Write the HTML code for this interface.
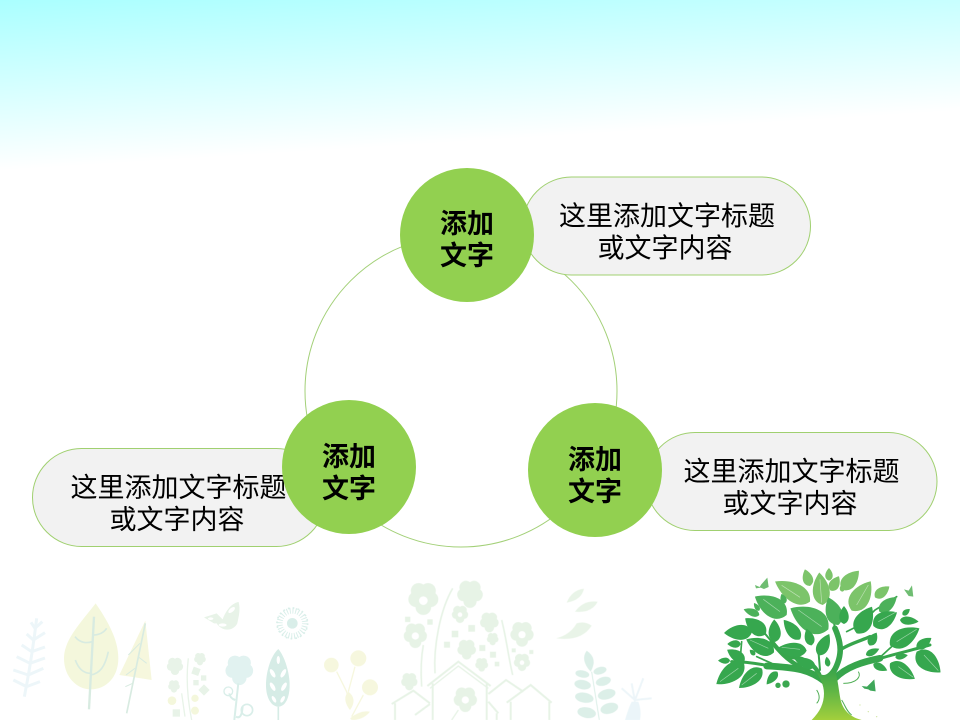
<!DOCTYPE html>
<html lang="zh">
<head>
<meta charset="utf-8">
<title>添加文字</title>
<style>
html,body{margin:0;padding:0;width:960px;height:720px;overflow:hidden;background:#fff}
svg{display:block}
text{font-family:"Liberation Sans","Noto Sans CJK SC",sans-serif;text-anchor:middle;fill:#000}
.t{font-size:27px}
.b{font-size:27px;font-weight:700}
</style>
</head>
<body>
<svg width="960" height="720" viewBox="0 0 960 720" xmlns="http://www.w3.org/2000/svg">
<defs>
<linearGradient id="sky" gradientUnits="userSpaceOnUse" x1="0" y1="0" x2="10.6" y2="170">
<stop offset="0" stop-color="#aaffff"/><stop offset=".5" stop-color="#d4ffff"/><stop offset="1" stop-color="#ffffff"/>
</linearGradient>
<linearGradient id="tg" gradientUnits="userSpaceOnUse" x1="0" y1="320" x2="0" y2="480">
<stop offset="0" stop-color="#35a24a"/><stop offset=".45" stop-color="#5fb545"/><stop offset="1" stop-color="#a3cf3c"/>
</linearGradient>
<path id="l" d="M0 0C.15-.75.65-.6 1 0C.65.6.15.75 0 0z"/>
<path id="fl" d="M0-17a9 9 0 0 1 14 10a9 9 0 0 1-5 16a9 9 0 0 1-18 0a9 9 0 0 1-5-16a9 9 0 0 1 14-10z"/>
</defs>
<rect width="960" height="720" fill="#fff"/>
<rect width="960" height="175" fill="url(#sky)"/>

<!-- faint left decoration -->
<g transform="translate(0 560) scale(.3333)" opacity=".85">
<g fill="none" stroke="#eaf5f8" stroke-width="9">
<path d="M110 175Q95 300 73 410"/>
<path d="M105 205l22-20M105 205l-12-18M100 240l35-22M100 240l-20-18M95 275l40-14M95 275l-30-20M90 310l45-16M90 310l-40-20M85 345l45-20M85 345l-45-15M80 380l40-15M80 380l-40-20"/>
</g>
<path d="M287 130C240 190 192 240 192 295C192 350 230 388 272 388C320 388 355 350 355 295C355 240 325 185 287 130z" fill="#f3f6d6"/>
<g fill="none" stroke="#d2e8dc" stroke-width="7">
<path d="M282 170L267 448"/>
<path d="M276 245C262 250 240 250 225 230M279 225C295 225 310 220 320 205M272 340C250 340 235 325 226 300M272 345C300 340 315 320 325 275" stroke-width="5"/>
</g>
<path d="M436 182L455 360L358 345z" fill="#f5f6d8"/>
<g fill="none" stroke="#d2e8dc" stroke-width="5">
<path d="M436 190L380 460"/><path d="M420 250L385 285M414 290L440 310M405 325L378 345M398 370L376 380" stroke-width="3"/>
</g>
<g fill="#e4f2e4">
<path d="M612 172L650 160L668 178C680 145 700 128 716 126C722 150 716 170 712 190C700 215 665 215 650 190L642 190z"/>
<use href="#fl" transform="translate(525 320) scale(1.4)"/>
<use href="#fl" transform="translate(600 298) scale(1)"/>
<use href="#fl" transform="translate(522 380) scale(1)"/>
<rect x="577" y="323" width="22" height="22" transform="rotate(20 588 334)"/>
<rect x="600" y="378" width="24" height="24" transform="rotate(45 612 390)"/>
<rect x="580" y="360" width="16" height="16"/><rect x="603" y="346" width="16" height="16"/>
<rect x="518" y="448" width="22" height="22"/>
</g>
<g fill="#fff"><ellipse cx="695" cy="150" rx="12" ry="6" transform="rotate(-40 695 150)"/><ellipse cx="668" cy="195" rx="12" ry="5"/><ellipse cx="632" cy="176" rx="8" ry="4"/></g>
<g fill="none" stroke="#e4f2e4" stroke-width="4"><path d="M565 295Q555 380 575 480M545 400L555 470"/></g>
<g fill="#f3f6d6"><circle cx="516" cy="422" r="13"/><circle cx="585" cy="415" r="11"/><circle cx="585" cy="452" r="12"/></g>
<circle cx="877" cy="190" r="16" fill="#d3ece6"/>
<circle cx="877" cy="190" r="38" fill="none" stroke="#d3ece6" stroke-width="18" stroke-dasharray="3 5.500"/>
<circle cx="877" cy="190" r="46" fill="none" stroke="#d3ece6" stroke-width="5" stroke-dasharray="5 9.500"/>
<use href="#fl" transform="translate(718 332) scale(2.4)" fill="#dcf0ee"/>
<g fill="none" stroke="#d3ece6" stroke-width="6">
<path d="M715 370L703 480"/><circle cx="685" cy="394" r="13" stroke-width="4"/><circle cx="741" cy="450" r="17" stroke-width="5"/>
<path d="M706 420Q690 415 688 400M708 470Q725 480 728 440"/>
</g>
<path d="M835 267C810 290 798 340 798 375C798 415 815 440 835 440C855 440 869 415 869 375C869 340 855 290 835 267z" fill="#cfe9e2"/>
<path d="M835 440V480" stroke="#cfe9e2" stroke-width="5"/>
<g fill="#fff"><ellipse cx="835" cy="300" rx="5" ry="12"/><ellipse cx="818" cy="340" rx="6" ry="14" transform="rotate(-30 818 340)"/><ellipse cx="850" cy="340" rx="6" ry="14" transform="rotate(30 850 340)"/><ellipse cx="818" cy="380" rx="6" ry="14" transform="rotate(-30 818 380)"/><ellipse cx="852" cy="380" rx="6" ry="14" transform="rotate(30 852 380)"/><ellipse cx="822" cy="418" rx="5" ry="11" transform="rotate(-30 822 418)"/><ellipse cx="848" cy="418" rx="5" ry="11" transform="rotate(30 848 418)"/></g>
</g>

<!-- faint centre decoration -->
<g transform="translate(320 560) scale(.3333)" opacity=".85">
<g fill="#f5f6d8">
<circle cx="34" cy="315" r="22"/><circle cx="115" cy="295" r="24"/><circle cx="150" cy="382" r="24"/>
<path d="M85 395C70 410 75 430 90 450C105 430 105 410 85 395zM90 475Q120 450 150 455Q130 480 95 480z"/>
</g>
<path d="M50 335L80 395L90 440M105 320L85 395M130 405L95 470" fill="none" stroke="#f5f6d8" stroke-width="4"/>
<g fill="#e3f1e2">
<use href="#fl" transform="translate(310 118) scale(2.6)"/>
<use href="#fl" transform="translate(450 104) scale(2.2)"/>
<use href="#fl" transform="translate(420 164) scale(1.4)"/>
<use href="#fl" transform="translate(286 228) scale(2)"/>
<use href="#fl" transform="translate(508 188) scale(1.6)"/>
<use href="#fl" transform="translate(606 224) scale(2)"/>
<use href="#fl" transform="translate(440 270) scale(1.6)"/>
<use href="#fl" transform="translate(518 238) scale(1)"/>
<use href="#fl" transform="translate(606 308) scale(1.4)"/>
<use href="#fl" transform="translate(485 315) scale(1.1)"/>
<use href="#fl" transform="translate(268 366) scale(1.4)"/>
<use href="#fl" transform="translate(436 420) scale(2)"/>
<rect x="255" y="170" width="16" height="16"/><rect x="322" y="178" width="16" height="16"/><rect x="395" y="212" width="20" height="20"/><rect x="445" y="195" width="20" height="20"/><rect x="372" y="245" width="18" height="18"/><rect x="478" y="255" width="18" height="18"/><rect x="510" y="275" width="18" height="18"/><rect x="524" y="305" width="14" height="14"/><rect x="575" y="265" width="12" height="12"/><rect x="628" y="270" width="12" height="12"/>
</g>
<g fill="#fff"><circle cx="310" cy="122" r="13"/><circle cx="286" cy="228" r="11"/><circle cx="606" cy="224" r="11"/><circle cx="436" cy="420" r="11"/><circle cx="420" cy="164" r="7"/><circle cx="606" cy="308" r="7"/></g>
<g fill="none" stroke="#e3f1e2" stroke-width="6">
<path d="M398 85C360 150 340 260 345 340M545 180C560 240 565 290 578 345M310 255Q300 310 305 380" stroke-width="5"/>
<path d="M322 378L415 305L512 378M338 370V480M500 370V480"/>
<path d="M330 385L415 318L505 385" stroke-width="4"/>
<path d="M215 432L280 392L330 430M225 430V480"/>
<path d="M505 402L558 360L610 395"/>
<path d="M560 428L632 375L695 428M572 425V480M688 425V480"/>
<path d="M285 465L330 432M505 425L535 460M530 460V480"/>
<path d="M415 450L395 480" stroke-width="4"/>
</g>
<g fill="#e6f3e4">
<path d="M740 128Q755 90 792 86Q785 120 740 128z"/>
<path d="M765 155Q790 120 833 125Q815 160 765 155z"/>
<path d="M708 235Q750 225 770 190Q795 182 815 197Q785 245 708 235z"/>
</g>
<g fill="#d6ece4">
<path d="M812 335Q780 300 800 272Q835 295 812 335z"/>
<ellipse cx="840" cy="332" rx="20" ry="11" transform="rotate(-15 840 332)"/>
<ellipse cx="787" cy="342" rx="21" ry="11" transform="rotate(10 787 342)"/>
<ellipse cx="850" cy="364" rx="23" ry="13" transform="rotate(-15 850 364)"/>
<ellipse cx="788" cy="374" rx="25" ry="14" transform="rotate(10 788 374)"/>
<ellipse cx="860" cy="403" rx="27" ry="15" transform="rotate(-15 860 403)"/>
<ellipse cx="793" cy="413" rx="28" ry="15" transform="rotate(10 793 413)"/>
<ellipse cx="868" cy="445" rx="27" ry="16" transform="rotate(-15 868 445)"/>
<ellipse cx="800" cy="458" rx="28" ry="16" transform="rotate(10 800 458)"/>
</g>
<path d="M815 335L838 480" stroke="#d6ece4" stroke-width="3" fill="none"/>
<path d="M915 480Q925 445 935 425L955 425Q965 450 960 480z" fill="#e8f4f8"/>
<path d="M945 425L935 370M945 420L970 355M945 420L905 385M945 420L995 415" fill="none" stroke="#eaf4f8" stroke-width="6"/>
</g>

<!-- tree -->
<g transform="translate(700 560) scale(.3333)">
<g fill="none" stroke="#37a54c" stroke-linecap="round">
<path d="M375 365C330 330 290 322 200 318" stroke-width="20"/>
<path d="M210 318C170 310 130 305 95 305" stroke-width="9"/>
<path d="M405 355C440 320 490 305 540 295" stroke-width="20"/>
<path d="M535 297C590 280 640 270 690 255" stroke-width="9"/>
<path d="M395 345C430 290 425 250 405 205" stroke-width="17"/>
<path d="M405 210L395 130" stroke-width="6"/>
<path d="M360 350C345 305 300 290 260 290" stroke-width="13"/>
<path d="M300 320C260 300 235 270 215 245" stroke-width="13"/>
<path d="M215 245L190 215" stroke-width="6"/>
<path d="M420 270C450 250 490 240 510 230" stroke-width="10"/>
<path d="M440 215L480 195L525 150L590 110" stroke-width="5"/>
<path d="M360 330L355 270" stroke-width="6"/>
<path d="M215 310L170 290M540 292L575 260M125 245L120 305" stroke-width="5"/>
</g>
<path d="M340 325C365 350 378 355 400 320C412 345 415 380 420 410C425 445 445 470 485 480H335C360 455 372 430 372 400C372 375 360 350 340 325z" fill="url(#tg)"/>
<!-- upper light leaves -->
<g fill="#7cc46a">
<use href="#l" transform="translate(330 125) rotate(210) scale(121 56)"/>
<use href="#l" transform="translate(330 78) rotate(-107) scale(52 30)"/>
<use href="#l" transform="translate(368 135) rotate(-96) scale(98 50)"/>
<use href="#l" transform="translate(387 62) rotate(-90) scale(38 22)"/>
<use href="#l" transform="translate(392 92) rotate(-60) scale(50 30)"/>
<use href="#l" transform="translate(425 88) rotate(-47) scale(76 42)"/>
<use href="#l" transform="translate(455 152) rotate(-57) scale(105 58)"/>
<use href="#l" transform="translate(525 112) rotate(-37) scale(54 30)"/>
<use href="#l" transform="translate(428 95) rotate(-100) scale(22 14)"/>
</g>
<!-- mid leaves -->
<g fill="#4cb15a">
<use href="#l" transform="translate(260 165) rotate(210) scale(110 60)"/>
<use href="#l" transform="translate(385 208) rotate(209) scale(130 72)"/>
<use href="#l" transform="translate(538 155) rotate(-40) scale(68 34)"/>
<use href="#l" transform="translate(415 195) rotate(-110) scale(88 48)"/>
<use href="#l" transform="translate(178 165) rotate(200) scale(50 22)"/>
<use href="#l" transform="translate(178 152) rotate(235) scale(28 14)"/>
<use href="#l" transform="translate(255 130) rotate(250) scale(30 18)"/>
</g>
<!-- lower darker leaves -->
<g fill="#36a74e">
<use href="#l" transform="translate(520 198) rotate(-30) scale(82 48)"/>
<use href="#l" transform="translate(570 256) rotate(-30) scale(102 54)"/>
<use href="#l" transform="translate(600 180) rotate(5) scale(56 24)"/>
<use href="#l" transform="translate(608 165) rotate(-40) scale(28 16)"/>
<use href="#l" transform="translate(470 220) rotate(-60) scale(92 52)"/>
<use href="#l" transform="translate(432 192) rotate(-90) scale(54 28)"/>
<use href="#l" transform="translate(197 223) rotate(218) scale(78 44)"/>
<use href="#l" transform="translate(156 216) rotate(178) scale(84 44)"/>
<use href="#l" transform="translate(225 246) rotate(-92) scale(68 36)"/>
<use href="#l" transform="translate(300 238) rotate(230) scale(76 36)"/>
<use href="#l" transform="translate(335 256) rotate(253) scale(52 28)"/>
<use href="#l" transform="translate(355 286) rotate(-63) scale(72 36)"/>
<use href="#l" transform="translate(222 277) rotate(205) scale(92 48)"/>
<use href="#l" transform="translate(320 272) rotate(184) scale(90 42)"/>
<use href="#l" transform="translate(346 320) rotate(200) scale(66 30)"/>
<use href="#l" transform="translate(134 302) rotate(212) scale(62 32)"/>
<use href="#l" transform="translate(122 252) rotate(180) scale(40 22)"/>
<use href="#l" transform="translate(132 310) rotate(143) scale(104 52)"/>
<use href="#l" transform="translate(186 326) rotate(140) scale(90 44)"/>
<use href="#l" transform="translate(90 302) rotate(180) scale(36 18)"/>
<use href="#l" transform="translate(232 335) rotate(130) scale(50 24)"/>
<use href="#l" transform="translate(165 285) rotate(225) scale(22 14)"/>
<use href="#l" transform="translate(650 275) rotate(41) scale(95 56)"/>
<use href="#l" transform="translate(570 310) rotate(32) scale(88 44)"/>
<use href="#l" transform="translate(520 312) rotate(25) scale(46 22)"/>
<use href="#l" transform="translate(586 292) rotate(-10) scale(38 18)"/>
<use href="#l" transform="translate(650 265) rotate(-35) scale(54 28)"/>
<use href="#l" transform="translate(508 256) rotate(-60) scale(44 26)"/>
<use href="#l" transform="translate(498 285) rotate(-25) scale(44 20)"/>
<use href="#l" transform="translate(385 320) rotate(-100) scale(30 16)"/>
</g>
<g fill="none" stroke="#fff" stroke-width="2" opacity=".5">
<path d="M300 112L245 76M240 155L190 118M365 200L295 150M365 128L360 58M470 135L505 75M535 185L590 155M590 245L650 208M672 285L715 332M595 320L640 352M115 325L60 365M170 340L125 375M205 265L150 240M300 268L245 262"/>
</g>
<g fill="#3ba850">
<circle cx="258" cy="372" r="11"/><circle cx="234" cy="376" r="8"/>
</g>
<g fill="#6fbd72">
<path d="M165 75l14 6 5-8 18-20 4 28-14 6-10-4-14 2z"/>
<path d="M612 88l14 4 10-16 4 34-14-2z"/>
</g>
<path d="M485 378l16 2 22-22 4 36-16-2-6-4-12-2z" fill="#3fa75a"/>
<g fill="none" stroke="#4fae54" stroke-width="3">
<path d="M430 370C470 370 485 350 475 335M350 390c10 15 10 30 0 40M425 420c10 15 15 35 30 45"/>
</g>
<g fill="#9ccb3c" opacity=".45"><circle cx="480" cy="435" r="2"/><circle cx="505" cy="455" r="2"/><circle cx="530" cy="470" r="2"/></g>
</g>

<!-- big ring -->
<circle cx="461" cy="391" r="156" fill="none" stroke="#a3d078" stroke-width="1"/>

<!-- pills -->
<rect x="522.500" y="177" width="288" height="98" rx="49" fill="#f2f2f2" stroke="#a0d070" stroke-width="1"/>
<rect x="646" y="432.500" width="291" height="98" rx="49" fill="#f2f2f2" stroke="#a0d070" stroke-width="1"/>
<rect x="32.500" y="448.500" width="293" height="98" rx="49" fill="#f2f2f2" stroke="#a0d070" stroke-width="1"/>

<text class="t" x="667" y="225.500">这里添加文字标题</text>
<text class="t" x="665" y="257.500">或文字内容</text>
<text class="t" x="791.500" y="481">这里添加文字标题</text>
<text class="t" x="790" y="513">或文字内容</text>
<text class="t" x="178.500" y="497">这里添加文字标题</text>
<text class="t" x="177" y="529">或文字内容</text>

<!-- nodes -->
<circle cx="467" cy="235" r="67" fill="#92d050"/>
<circle cx="349" cy="467" r="67" fill="#92d050"/>
<circle cx="595" cy="470" r="67" fill="#92d050"/>

<text class="b" x="467" y="233">添加</text>
<text class="b" x="467" y="265">文字</text>
<text class="b" x="349" y="466">添加</text>
<text class="b" x="349" y="498">文字</text>
<text class="b" x="595" y="469">添加</text>
<text class="b" x="595" y="501">文字</text>
</svg>
</body>
</html>
